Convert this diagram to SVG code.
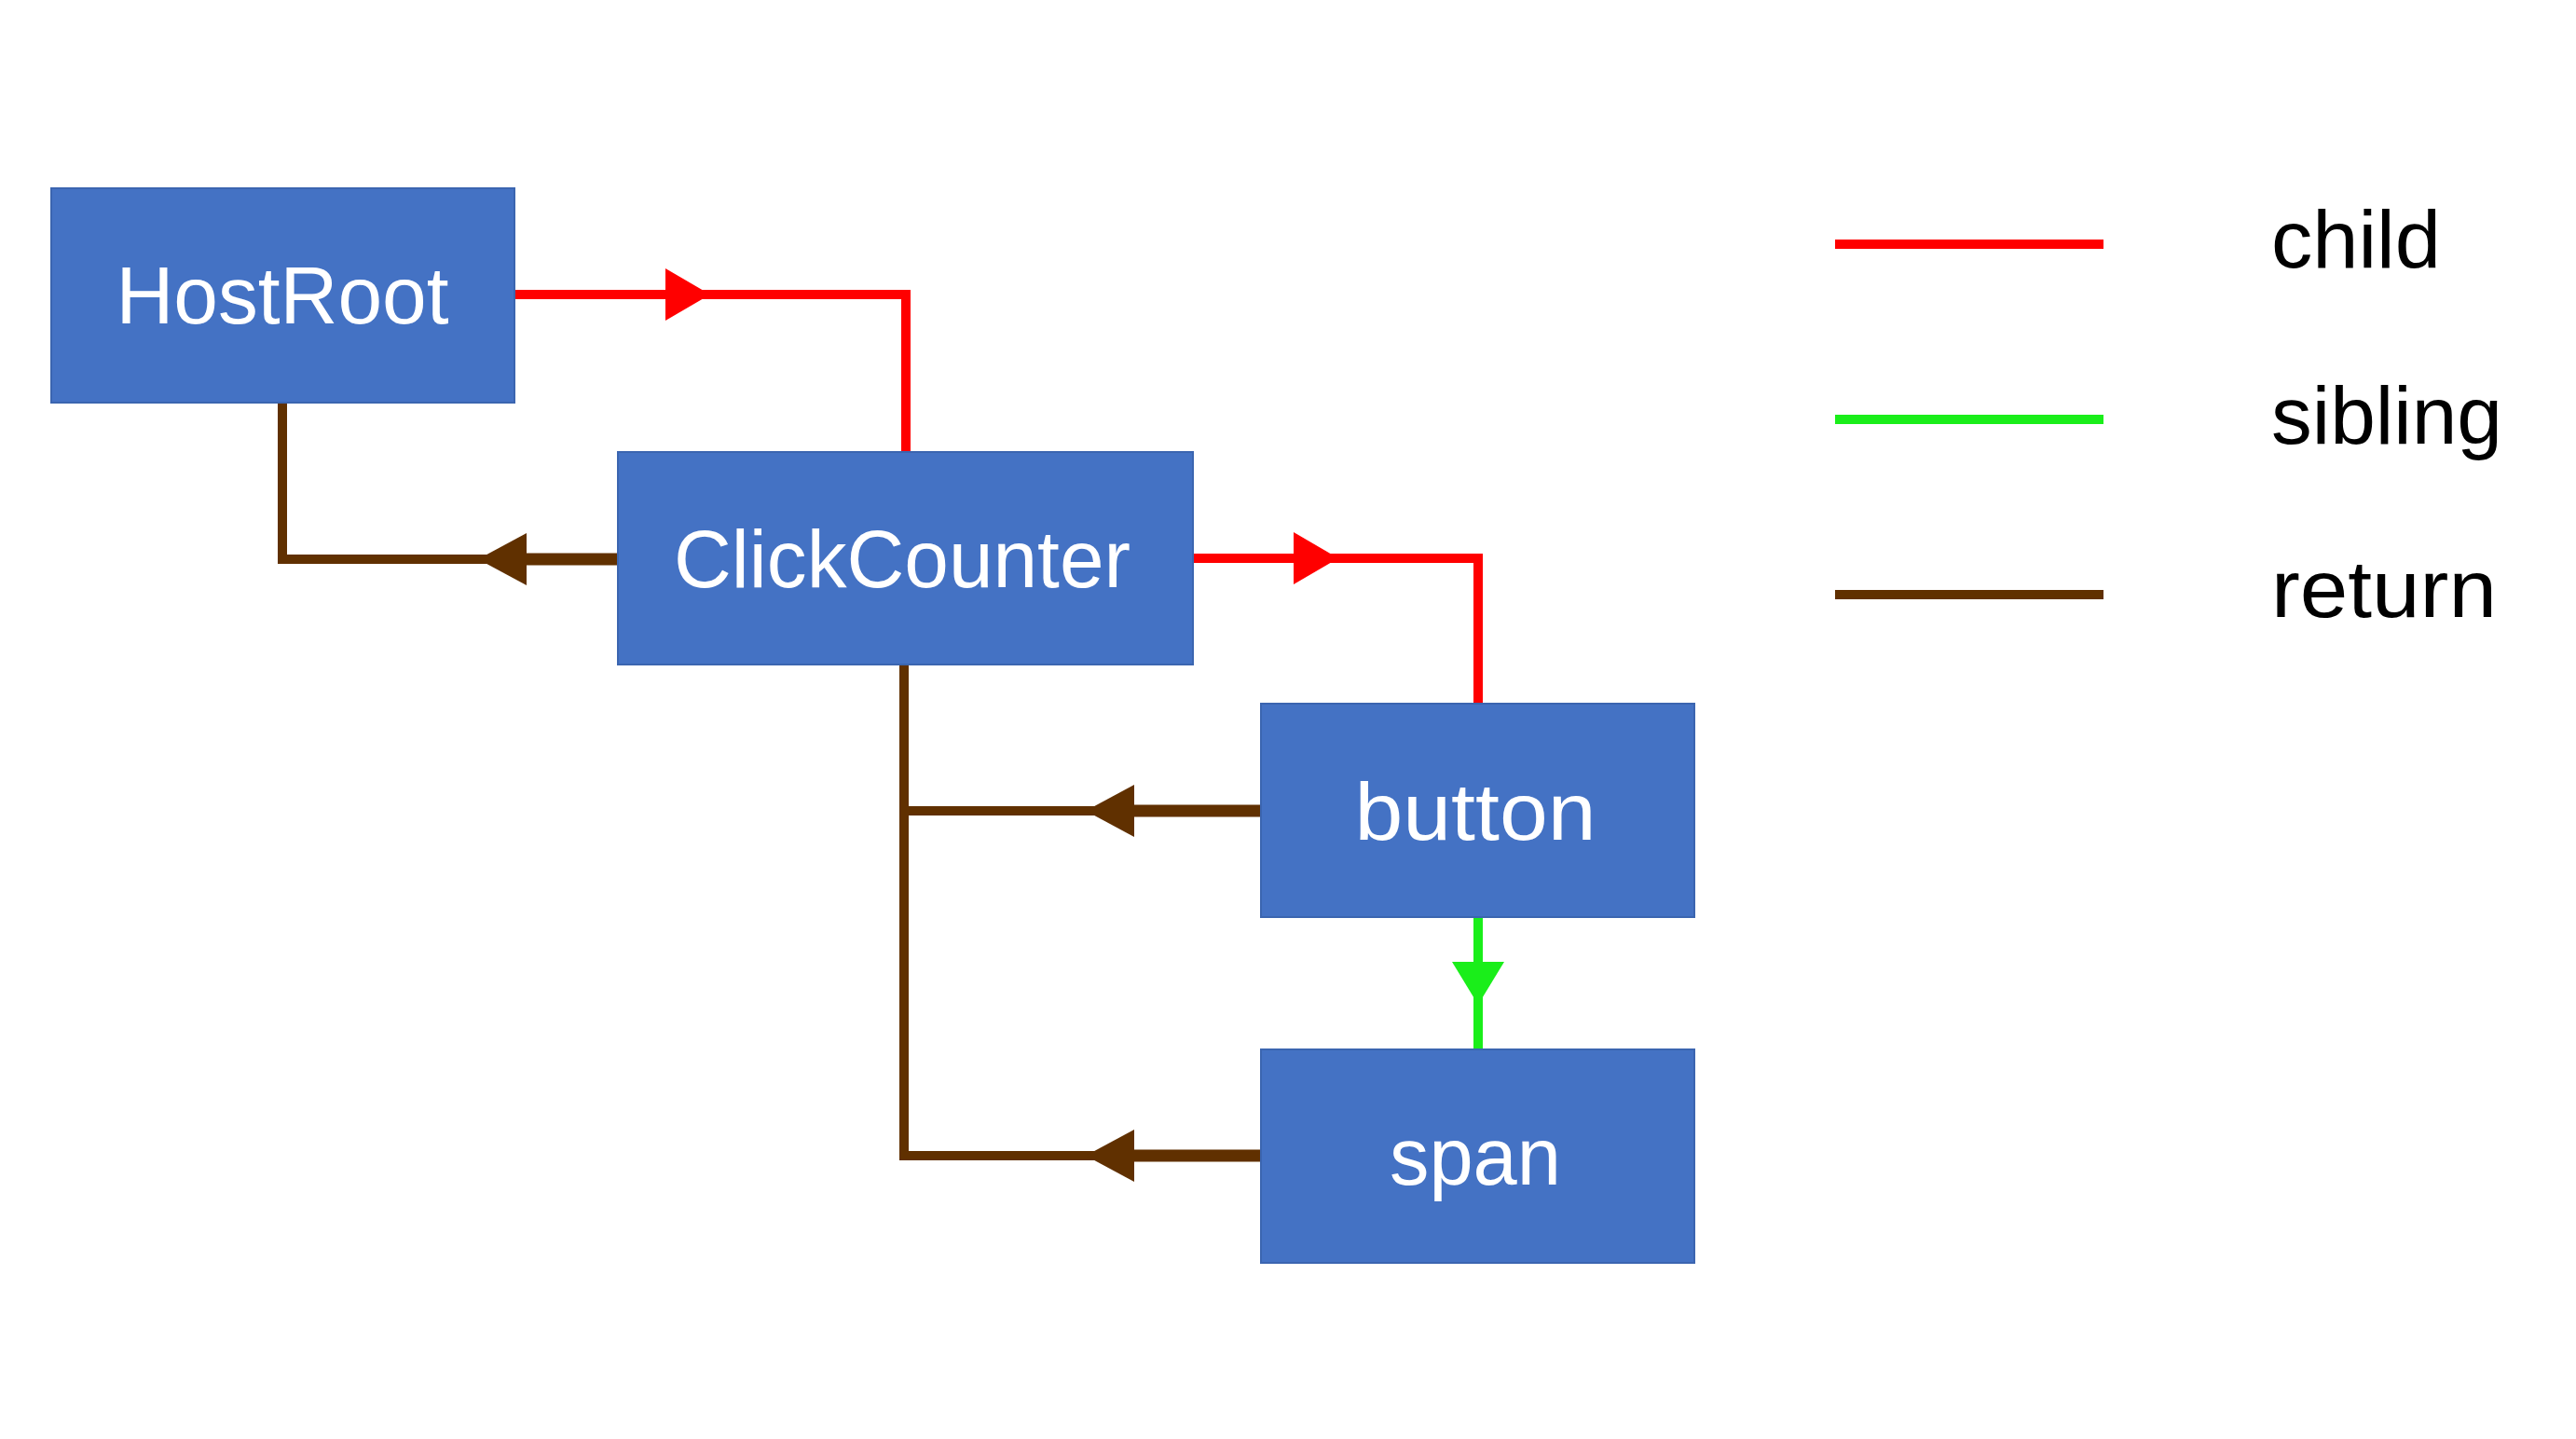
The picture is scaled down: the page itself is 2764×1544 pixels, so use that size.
<svg xmlns="http://www.w3.org/2000/svg" width="2764" height="1544" viewBox="0 0 2764 1544">
<style>
.node{fill:#4472C4;stroke:#3B65B0;stroke-width:2}
.lbl{font-family:"Liberation Sans",Arial,sans-serif;font-size:88px;fill:#FFFFFF;text-anchor:middle}
.leg{font-family:"Liberation Sans",Arial,sans-serif;font-size:88px;fill:#000000}
.child{stroke:#FF0000;stroke-width:10;fill:none}
.sib{stroke:#1AEE1A;stroke-width:10;fill:none}
.ret{stroke:#603000;stroke-width:10;fill:none}
.retb{stroke:#603000;stroke-width:13;fill:none}
.hc{fill:#FF0000}
.hs{fill:#1AEE1A}
.hr{fill:#603000}
</style>
<rect width="2764" height="1544" fill="#FFFFFF"/>
<g id="connectors">
<path class="child" d="M552,316 H972 V485"/>
<polygon class="hc" points="714,288 762,316 714,344"/>
<path class="child" d="M1280,599 H1586 V755"/>
<polygon class="hc" points="1388,571 1436,599 1388,627"/>
<path class="sib" d="M1586,984 V1126"/>
<polygon class="hs" points="1558,1032 1614,1032 1586,1078"/>
<path class="ret" d="M303,432 V600 H565"/>
<path class="retb" d="M565,600 H663"/>
<polygon class="hr" points="565,572 513,600 565,628"/>
<path class="ret" d="M970,713 V1240 H1217"/>
<path class="retb" d="M1217,1240 H1353"/>
<polygon class="hr" points="1217,1212 1165,1240 1217,1268"/>
<path class="ret" d="M970,870 H1217"/>
<path class="retb" d="M1217,870 H1353"/>
<polygon class="hr" points="1217,842 1165,870 1217,898"/>
</g>
<g id="HostRoot">
<rect class="node" x="55" y="202" width="497" height="230"/>
<text class="lbl" x="303" y="347" textLength="357" lengthAdjust="spacingAndGlyphs">HostRoot</text>
</g>
<g id="ClickCounter">
<rect class="node" x="663" y="485" width="617" height="228"/>
<text class="lbl" x="968" y="630" textLength="490" lengthAdjust="spacingAndGlyphs">ClickCounter</text>
</g>
<g id="button">
<rect class="node" x="1353" y="755" width="465" height="229"/>
<text class="lbl" x="1583" y="901" textLength="259" lengthAdjust="spacingAndGlyphs">button</text>
</g>
<g id="span">
<rect class="node" x="1353" y="1126" width="465" height="229"/>
<text class="lbl" x="1583" y="1271" textLength="184" lengthAdjust="spacingAndGlyphs">span</text>
</g>
<g id="legend">
<line class="child" x1="1969" y1="262" x2="2257" y2="262"/>
<text class="leg" x="2437" y="287" textLength="182" lengthAdjust="spacingAndGlyphs">child</text>
<line class="sib" x1="1969" y1="450" x2="2257" y2="450"/>
<text class="leg" x="2437" y="476" textLength="248" lengthAdjust="spacingAndGlyphs">sibling</text>
<line class="ret" x1="1969" y1="638" x2="2257" y2="638"/>
<text class="leg" x="2437" y="662" textLength="242" lengthAdjust="spacingAndGlyphs">return</text>
</g>
</svg>
